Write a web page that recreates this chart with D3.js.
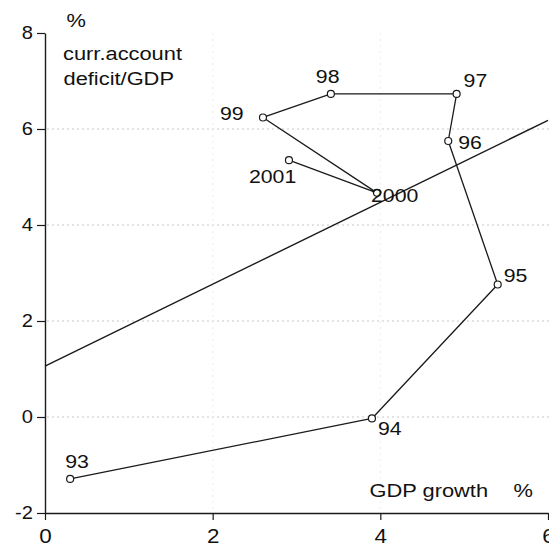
<!DOCTYPE html>
<html>
<head>
<meta charset="utf-8">
<script src="https://cdn.jsdelivr.net/npm/d3@7"></script>
<style>
  html, body { margin: 0; padding: 0; background: #fff; }
  svg { display: block; }
  text { font-family: "Liberation Sans", Arial, Helvetica, sans-serif; fill: #111; }
</style>
</head>
<body>
<div id="chart"></div>
<script>
// Annual observations: GDP growth (%) vs current account deficit / GDP (%)
const years      = ["93", "94", "95", "96", "97", "98", "99", "2000", "2001"];
const gdpGrowth  = [0.30, 3.90, 5.40, 4.81, 4.91, 3.41, 2.60, 3.96, 2.91];
const deficitGdp = [-1.29, -0.03, 2.76, 5.75, 6.73, 6.73, 6.24, 4.67, 5.35];

// Fitted straight line across the growth range
const fitGrowth  = [0, 6];
const fitDeficit = [1.06, 6.18];

// Axis ticks and gridlines
const xTickValues = [0, 2, 4, 6];
const yTickValues = [-2, 0, 2, 4, 6, 8];
const yGridValues = [0, 2, 4, 6];
const xGridValues = [2, 4];

const W = 549, H = 547;
const STRETCH = 1.15;           // slightly wide lettering
const INK = "#1a1a1a";

// Label placement relative to each point (text left edge, baseline)
const labelOffsets = [
  [-5, -11], [6, 17], [6, -3], [10, 8], [7, -7],
  [-15, -11], [-43, 3], [-6, 9], [-40, 23]
];

const svg = d3.select("#chart").append("svg")
  .attr("width", W).attr("height", H)
  .attr("viewBox", `0 0 ${W} ${H}`);

const x = d3.scaleLinear().domain([0, 6]).range([45, 548]);
const y = d3.scaleLinear().domain([-2, 8]).range([513, 33]);

// Faint dotted gridlines
svg.append("g").selectAll("line").data(yGridValues).join("line")
  .attr("x1", x(0) + 2).attr("x2", W)
  .attr("y1", d => y(d)).attr("y2", d => y(d))
  .attr("stroke", "#c8c8c8").attr("stroke-width", 1)
  .attr("stroke-dasharray", "2,3");
svg.append("g").selectAll("line").data(xGridValues).join("line")
  .attr("x1", d => x(d)).attr("x2", d => x(d))
  .attr("y1", y(8)).attr("y2", y(-2))
  .attr("stroke", "#ececec").attr("stroke-width", 1)
  .attr("stroke-dasharray", "2,4");

function stretched(sel, tx, ty) {
  return sel.attr("x", 0).attr("y", 0)
    .attr("transform", `translate(${tx},${ty}) scale(${STRETCH},1)`);
}

// Plain hyphen for negatives
const plainFormat = d => String(d);

// Y axis
const yAxis = svg.append("g")
  .attr("transform", `translate(${x(0)},0)`)
  .call(d3.axisLeft(y).tickValues(yTickValues).tickSize(8).tickSizeOuter(0).tickFormat(plainFormat));
yAxis.select(".domain").attr("stroke", INK).attr("stroke-width", 1.4);
yAxis.selectAll(".tick line").attr("stroke", INK).attr("stroke-width", 1.2);
yAxis.selectAll(".tick text")
  .attr("font-size", 17.5).attr("text-anchor", "end").attr("dy", null)
  .each(function() { stretched(d3.select(this), -12, 5); });

// X axis
const xAxis = svg.append("g")
  .attr("transform", `translate(0,${y(-2)})`)
  .call(d3.axisBottom(x).tickValues(xTickValues).tickSize(7).tickSizeOuter(0).tickFormat(plainFormat));
xAxis.select(".domain").attr("stroke", INK).attr("stroke-width", 1.4);
xAxis.selectAll(".tick line").attr("stroke", INK).attr("stroke-width", 1.2);
xAxis.selectAll(".tick text")
  .attr("font-size", 19.5).attr("text-anchor", "middle").attr("dy", null)
  .each(function() { stretched(d3.select(this), 0, 30); });

// Fitted line
svg.append("path")
  .datum(d3.zip(fitGrowth, fitDeficit))
  .attr("d", d3.line().x(d => x(d[0])).y(d => y(d[1])))
  .attr("fill", "none").attr("stroke", INK).attr("stroke-width", 1.4);

// Year-by-year path
const pts = years.map((yr, i) => ({ yr, g: gdpGrowth[i], d: deficitGdp[i], off: labelOffsets[i] }));
svg.append("path")
  .datum(pts)
  .attr("d", d3.line().x(p => x(p.g)).y(p => y(p.d)))
  .attr("fill", "none").attr("stroke", INK).attr("stroke-width", 1.3)
  .attr("stroke-linejoin", "round");

svg.append("g").selectAll("circle").data(pts).join("circle")
  .attr("cx", p => x(p.g)).attr("cy", p => y(p.d)).attr("r", 3.5)
  .attr("fill", "#fff").attr("stroke", INK).attr("stroke-width", 1.2);

svg.append("g").selectAll("text").data(pts).join("text")
  .attr("font-size", 18.5)
  .text(p => p.yr)
  .each(function(p) { stretched(d3.select(this), x(p.g) + p.off[0], y(p.d) + p.off[1]); });

// Axis titles
const titles = [
  ["%", 66.5, 26.5],
  ["curr.account", 63, 60],
  ["deficit/GDP", 63.5, 85],
  ["GDP growth", 369.5, 497],
  ["%", 513.5, 497]
];
svg.append("g").selectAll("text").data(titles).join("text")
  .attr("font-size", 19)
  .text(t => t[0])
  .each(function(t) { stretched(d3.select(this), t[1], t[2]); });
</script>
</body>
</html>
